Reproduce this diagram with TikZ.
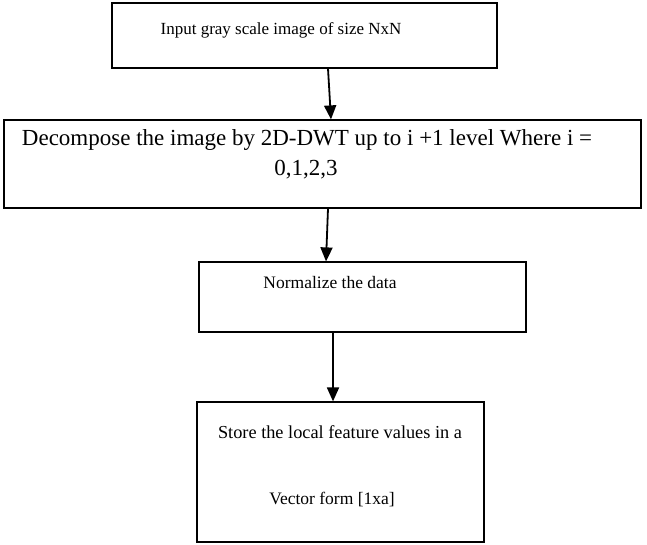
\documentclass[tikz,border=0pt]{standalone}
\usepackage{fontspec}
\setmainfont{Liberation Serif}
\usetikzlibrary{arrows.meta}
\begin{document}
\begin{tikzpicture}[x=1pt,y=1pt,
  box/.style={draw=black,line width=1.2pt,rectangle,inner sep=0pt},
  txt/.style={inner sep=0pt,font=\fontsize{17}{20}\selectfont},
  bigtxt/.style={inner sep=0pt,font=\fontsize{23}{26}\selectfont},
  arr/.style={line width=1.8pt,-{Triangle[width=12pt,length=14pt]}}]
\useasboundingbox (0,0) rectangle (647,544);
\node[box,minimum width=385pt,minimum height=65pt] (b1) at (304.5,508.5) {};
\node[box,minimum width=637pt,minimum height=88pt] (b2) at (322.5,380) {};
\node[box,minimum width=327pt,minimum height=70pt] (b3) at (362.5,247) {};
\node[box,minimum width=287pt,minimum height=140pt] (b4) at (340.5,72) {};
\node[txt] (t1) at (281,514) {Input gray scale image of size NxN};
\node[bigtxt] (t2a) at (307,404) {Decompose the image by 2D-DWT up to i +1 level Where i =};
\node[bigtxt] (t2b) at (306,374) {0,1,2,3};
\node[txt,font=\fontsize{17.5}{20}\selectfont] (t3) at (330,261) {Normalize the data};
\node[txt,font=\fontsize{18.3}{20}\selectfont] (t4a) at (340,112) {Store the local feature values in a};
\node[txt,font=\fontsize{17.5}{20}\selectfont] (t4b) at (332,44) {Vector form [1xa]};
\draw[arr] ([xshift=23.5pt]b1.south) -- ([xshift=8.5pt]b2.north);
\draw[arr] ([xshift=5.5pt]b2.south) -- ([xshift=-36.5pt]b3.north);
\draw[arr] ([xshift=-29.5pt]b3.south) -- ([xshift=-7.5pt]b4.north);
\end{tikzpicture}
\end{document}
